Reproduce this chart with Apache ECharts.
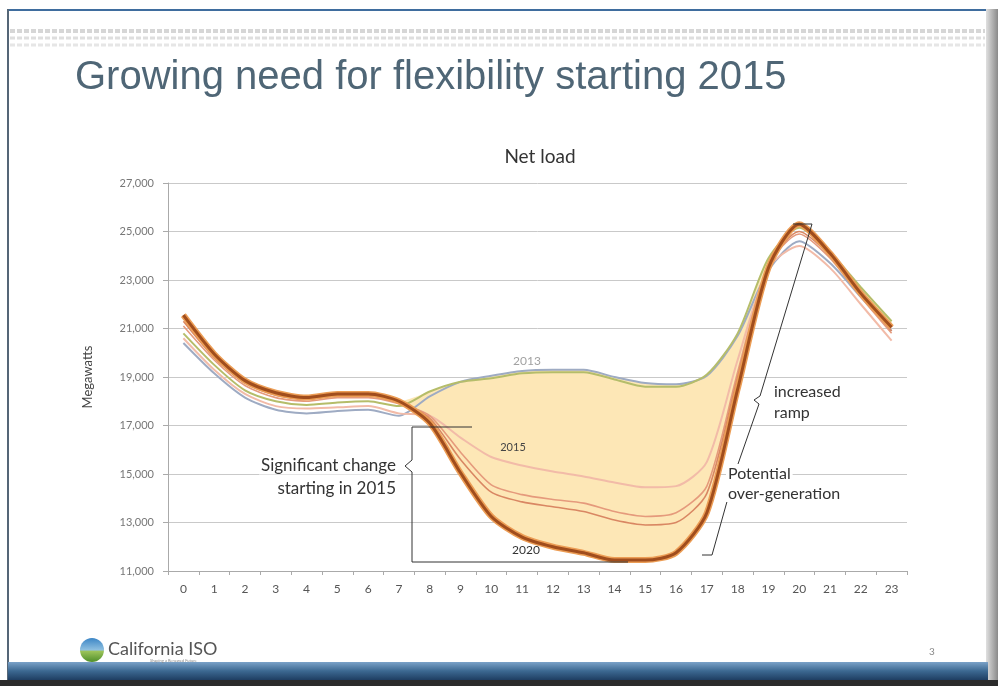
<!DOCTYPE html>
<html>
<head>
<meta charset="utf-8">
<title>Net load</title>
<script src="https://cdn.jsdelivr.net/npm/echarts@6/dist/echarts.min.js"></script>
<style>
html, body { margin: 0; padding: 0; background: #fff; }
#main { width: 998px; height: 686px; }
</style>
</head>
<body>
<div id="main"></div>
<script>
// hours of the day
var hours = ['0', '1', '2', '3', '4', '5', '6', '7', '8', '9', '10', '11',
  '12', '13', '14', '15', '16', '17', '18', '19', '20', '21', '22', '23']
var yTicks = [11000, 27000, 2000] // min, max, step

// net load, MW
var y2012 = [20800, 19500, 18450, 18000, 17850, 17950, 18000, 17800, 18400, 18800, 18950, 19150,
  19200, 19200, 18900, 18600, 18600, 19100, 20800, 23900, 25150, 24150, 22700, 21300]
var y2013 = [20400, 19150, 18150, 17650, 17500, 17600, 17650, 17400, 18200, 18800, 19050, 19250,
  19300, 19300, 19000, 18750, 18700, 19050, 20700, 23400, 24600, 23700, 22300, 20900]
var y2015 = [20600, 19300, 18300, 17800, 17700, 17750, 17800, 17500, 17400, 16500, 15700, 15350,
  15100, 14900, 14650, 14450, 14500, 15500, 19700, 23500, 24400, 23500, 22000, 20500]
var y2016 = [21100, 19700, 18650, 18150, 18000, 18150, 18150, 17900, 17400, 15900, 14550, 14150,
  13950, 13800, 13450, 13250, 13400, 14500, 19200, 23600, 24900, 23900, 22300, 20800]
var y2017 = [21300, 19800, 18750, 18250, 18100, 18250, 18250, 17950, 17300, 15600, 14250, 13850,
  13650, 13450, 13100, 12900, 13000, 14200, 19000, 23600, 25000, 24000, 22400, 20900]
var y2020 = [21550, 19950, 18850, 18350, 18150, 18300, 18300, 18000, 17100, 15050, 13250, 12400,
  12000, 11750, 11450, 11450, 11750, 13400, 18500, 23500, 25300, 24100, 22450, 21050]

// shaded gap between the top (actual) curves and 2020
var band = y2020.map(function (v, i) {
  return Math.max(0, Math.max(y2012[i], y2013[i]) - v)
})

var font = 'Lato, "Open Sans", sans-serif'
var SMOOTH = 0.25

function line(name, data, color, width, z) {
  return {
    name: name,
    type: 'line',
    data: data,
    smooth: SMOOTH,
    symbol: 'none',
    z: z,
    silent: true,
    lineStyle: { color: color, width: width }
  }
}

var chart = echarts.init(document.getElementById('main'))

var option = {
  backgroundColor: '#fff',
  animation: false,
  grid: { left: 168, right: 91, top: 183, bottom: 115 },
  xAxis: {
    type: 'category',
    data: hours,
    boundaryGap: true,
    axisLine: { lineStyle: { color: '#aaa', width: 1 } },
    axisTick: { show: true, length: 4, lineStyle: { color: '#aaa' } },
    axisLabel: { color: '#555', fontSize: 12, fontFamily: font, margin: 12 },
    splitLine: { show: false }
  },
  yAxis: {
    type: 'value',
    min: yTicks[0],
    max: yTicks[1],
    interval: yTicks[2],
    name: 'Megawatts',
    nameLocation: 'middle',
    nameGap: 74,
    nameRotate: 90,
    nameTextStyle: { color: '#444', fontSize: 13, fontFamily: font },
    axisLine: { show: true, lineStyle: { color: '#aaa' } },
    axisTick: { show: true, length: 5, lineStyle: { color: '#aaa' } },
    axisLabel: {
      color: '#777', fontSize: 11, fontFamily: font, margin: 14,
      formatter: function (v) { return v.toLocaleString('en-US') }
    },
    splitLine: { lineStyle: { color: '#c9c9c9', width: 1 } }
  },
  series: [
    {
      name: 'base', type: 'line', stack: 'gap', data: y2020, smooth: SMOOTH,
      symbol: 'none', silent: true, z: 1, lineStyle: { opacity: 0 }
    },
    {
      name: 'gap', type: 'line', stack: 'gap', data: band, smooth: SMOOTH,
      symbol: 'none', silent: true, z: 1, lineStyle: { opacity: 0 },
      areaStyle: { color: '#fde7b6', opacity: 1 }
    },
    line('2013', y2013, '#9eabc3', 2, 3),
    line('2012', y2012, '#b5bd6a', 2, 3),
    line('2015', y2015, '#f2bba8', 2, 3),
    line('2016', y2016, '#e59a7c', 1.6, 3),
    line('2017', y2017, '#d98763', 1.6, 3),
    line('2020 halo', y2020, '#ec9d55', 6, 4),
    line('2020', y2020, '#a04d1d', 3, 5)
  ],
  graphic: [
    // slide frame
    { type: 'rect', z: -10, shape: { x: 8, y: 9, width: 982, height: 2 }, style: { fill: '#3f6d9e' } },
    { type: 'rect', z: -10, shape: { x: 7, y: 9, width: 2, height: 672 }, style: { fill: '#556677' } },
    {
      type: 'rect', z: -10, shape: { x: 986, y: 9, width: 12, height: 677 },
      style: { fill: new echarts.graphic.LinearGradient(0, 0, 1, 0, [
        { offset: 0, color: '#e0e0e0' }, { offset: 1, color: '#8a8a8a' }]) }
    },
    { type: 'line', z: -9, shape: { x1: 10, y1: 31, x2: 985, y2: 31 }, style: { stroke: '#d6d6d6', lineWidth: 4, lineDash: [5, 2] } },
    { type: 'line', z: -9, shape: { x1: 10, y1: 38, x2: 985, y2: 38 }, style: { stroke: '#dedede', lineWidth: 3, lineDash: [5, 2] } },
    { type: 'line', z: -9, shape: { x1: 10, y1: 45, x2: 985, y2: 45 }, style: { stroke: '#e6e6e6', lineWidth: 3, lineDash: [5, 2] } },
    {
      type: 'rect', z: -10, shape: { x: 8, y: 662, width: 980, height: 18 },
      style: { fill: new echarts.graphic.LinearGradient(0, 0, 0, 1, [
        { offset: 0, color: '#7aa2c8' }, { offset: 0.5, color: '#3c6891' }, { offset: 1, color: '#1f3e62' }]) }
    },
    { type: 'rect', z: -10, shape: { x: 0, y: 680, width: 998, height: 6 }, style: { fill: '#2b2b2b' } },

    // headings
    {
      type: 'text', left: 75, top: 58,
      style: { text: 'Growing need for flexibility starting 2015', fill: '#4f6676', font: '40px "Liberation Sans", Arial, sans-serif' }
    },
    {
      type: 'text', x: 540, y: 157,
      style: { text: 'Net load', fill: '#333', font: '19px ' + font, textAlign: 'center', textVerticalAlign: 'middle' }
    },

    // curve labels
    { type: 'text', x: 527, y: 361, z: 20, style: { text: '2013', fill: '#a2a2a2', font: '12px ' + font, textAlign: 'center', textVerticalAlign: 'middle' } },
    { type: 'text', x: 513, y: 447, z: 20, style: { text: '2015', fill: '#444', font: '11px ' + font, textAlign: 'center', textVerticalAlign: 'middle' } },
    { type: 'text', x: 526, y: 550, z: 20, style: { text: '2020', fill: '#333', font: '12px ' + font, textAlign: 'center', textVerticalAlign: 'middle' } },

    // "significant change" bracket
    {
      type: 'polyline', z: 20,
      shape: { points: [[472, 427], [412, 427], [412, 460], [405, 466], [412, 472], [412, 562], [628, 562]] },
      style: { stroke: '#333', lineWidth: 1, fill: null }
    },
    {
      type: 'text', x: 398, y: 466, z: 20,
      style: { text: 'Significant change', fill: '#333', font: '17px ' + font, textAlign: 'right', textVerticalAlign: 'middle', backgroundColor: '#fff', padding: [0, 2] }
    },
    {
      type: 'text', x: 398, y: 489, z: 20,
      style: { text: 'starting in 2015', fill: '#333', font: '17px ' + font, textAlign: 'right', textVerticalAlign: 'middle', backgroundColor: '#fff', padding: [0, 2] }
    },

    // ramp / over-generation bracket
    {
      type: 'polyline', z: 20,
      shape: { points: [[793, 224], [812, 224], [760, 396], [754, 400], [759, 404], [738, 464]] },
      style: { stroke: '#333', lineWidth: 1, fill: null }
    },
    {
      type: 'polyline', z: 20,
      shape: { points: [[728, 498], [712, 555], [702, 555]] },
      style: { stroke: '#333', lineWidth: 1, fill: null }
    },
    {
      type: 'text', x: 774, y: 392, z: 20,
      style: { text: 'increased', fill: '#333', font: '16px ' + font, textVerticalAlign: 'middle' }
    },
    {
      type: 'text', x: 774, y: 413, z: 20,
      style: { text: 'ramp', fill: '#333', font: '16px ' + font, textVerticalAlign: 'middle' }
    },
    {
      type: 'text', x: 726, y: 474, z: 20,
      style: { text: 'Potential', fill: '#333', font: '16px ' + font, textVerticalAlign: 'middle', backgroundColor: '#fff', padding: [0, 2] }
    },
    {
      type: 'text', x: 726, y: 494, z: 20,
      style: { text: 'over-generation', fill: '#333', font: '16px ' + font, textVerticalAlign: 'middle', backgroundColor: '#fff', padding: [0, 2] }
    },

    // footer logo and page number
    {
      type: 'circle', shape: { cx: 92, cy: 650, r: 12 },
      style: { fill: new echarts.graphic.LinearGradient(0, 0, 0, 1, [
        { offset: 0, color: '#3c86c6' }, { offset: 0.5, color: '#8fc0e0' }, { offset: 0.55, color: '#9cc45a' }, { offset: 1, color: '#4f8f2a' }]) }
    },
    {
      type: 'text', x: 108, y: 649,
      style: { text: 'California ISO', fill: '#555', font: '18px ' + font, textVerticalAlign: 'middle' }
    },
    {
      type: 'text', x: 150, y: 661,
      style: { text: 'Shaping a Renewed Future', fill: '#888', font: '4px ' + font, textVerticalAlign: 'middle' }
    },
    {
      type: 'text', x: 932, y: 652,
      style: { text: '3', fill: '#888', font: '10px ' + font, textAlign: 'center', textVerticalAlign: 'middle' }
    }
  ]
}

chart.setOption(option)
</script>
</body>
</html>
